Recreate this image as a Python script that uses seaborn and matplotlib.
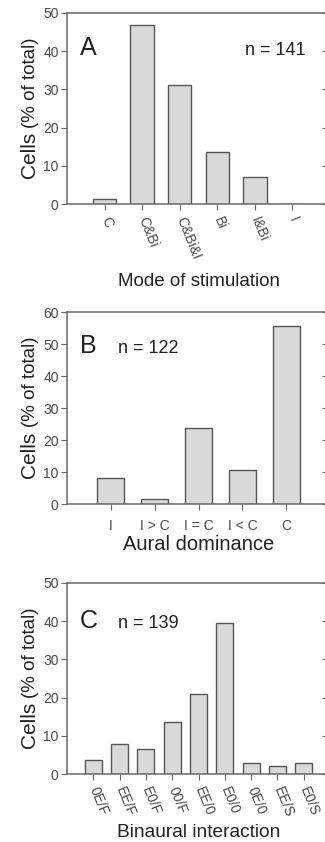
import matplotlib
matplotlib.use("Agg")
import matplotlib.pyplot as plt
import seaborn as sns
import pandas as pd

# Panel A: mode of stimulation (n = 141)
mode_labels = ["C", "C&Bi", "C&Bi&I", "Bi", "I&Bi", "I"]
mode_pct = [1.4, 46.8, 31.2, 13.5, 7.1, 0.0]

# Panel B: aural dominance (n = 122)
aural_labels = ["I", "I > C", "I = C", "I < C", "C"]
aural_pct = [8.2, 1.6, 23.8, 10.7, 55.7]

# Panel C: binaural interaction (n = 139)
binaural_labels = ["0E/F", "EE/F", "E0/F", "00/F", "EE/0", "E0/0", "0E/0", "EE/S", "E0/S"]
binaural_pct = [3.6, 7.9, 6.5, 13.7, 20.9, 39.6, 2.9, 2.2, 2.9]

sns.set_style("ticks")
plt.rcParams["font.family"] = ["Liberation Sans", "DejaVu Sans"]

W, H = 325, 842
fig = plt.figure(figsize=(W / 100, H / 100), dpi=100)

BAR = "#d9d9d9"
EDGE = "#555555"
AXC = "#6a6a6a"
TXT = "#4a4a4a"


def px_axes(left, top, right, bottom):
    return fig.add_axes([left / W, 1 - bottom / H, (right - left) / W, (bottom - top) / H])


panels = [
    dict(box=(67, 13, 330, 204), labels=mode_labels, vals=mode_pct, ymax=50,
         letter="A", n="n = 141", n_x=0.677, base=0.78, rot=True, tpad=6,
         xlabel="Mode of stimulation", xl_size=13.5, xl_pad=8, width=0.62),
    dict(box=(67, 312, 330, 504), labels=aural_labels, vals=aural_pct, ymax=60,
         letter="B", n="n = 122", n_x=0.195, base=0.786, rot=False, tpad=7,
         xlabel="Aural dominance", xl_size=14.5, xl_pad=1, width=0.62),
    dict(box=(67, 583, 330, 774), labels=binaural_labels, vals=binaural_pct, ymax=50,
         letter="C", n="n = 139", n_x=0.195, base=0.764, rot=True, tpad=6,
         xlabel="Binaural interaction", xl_size=13.8, xl_pad=3, width=0.65),
]

for p in panels:
    ax = px_axes(*p["box"])
    df = pd.DataFrame({"cat": p["labels"], "pct": p["vals"]})
    sns.barplot(data=df, x="cat", y="pct", ax=ax, color=BAR, saturation=1,
                edgecolor=EDGE, linewidth=1.0, width=p["width"])
    n = len(p["labels"])
    ax.set_xlim(-1, n)
    ax.set_ylim(0, p["ymax"])
    ax.set_yticks(range(0, p["ymax"] + 1, 10))
    ax.set_ylabel("")
    ax.set_xlabel(p["xlabel"], fontsize=p["xl_size"], color="#222222", labelpad=p["xl_pad"])

    for s in ax.spines.values():
        s.set_visible(True)
        s.set_color(AXC)
        s.set_linewidth(1.1)
    ax.spines["right"].set_visible(False)

    ax.tick_params(axis="y", which="major", direction="out", length=4, width=0.8,
                   color=AXC, labelsize=10, labelcolor=TXT, pad=2)
    ax.tick_params(axis="y", right=True, labelright=False)
    for t in ax.yaxis.get_major_ticks():
        t.tick2line.set_marker(0)  # inward tick hanging off the right edge
        t.tick2line.set_markersize(6)
        t.tick2line.set_color("#cfcfcf")
    ax.tick_params(axis="x", direction="out", length=4, width=0.8, color=AXC,
                   labelsize=10, labelcolor=TXT, pad=p["tpad"])

    if p["rot"]:
        for lab in ax.get_xticklabels():
            lab.set_rotation(-68)
            lab.set_rotation_mode("anchor")
            lab.set_ha("left")
            lab.set_va("center")

    # panel letter and sample size
    ax.text(0.05, p["base"], p["letter"], transform=ax.transAxes, fontsize=18,
            color="#222222", va="baseline", ha="left")
    ax.text(p["n_x"], p["base"], p["n"], transform=ax.transAxes, fontsize=13,
            color="#222222", va="baseline", ha="left")

    # y-axis title in two sizes
    ax.text(-0.122, 0.135, "Cells", transform=ax.transAxes, fontsize=15,
            rotation=90, rotation_mode="anchor", ha="left", va="baseline", color="#222222")
    ax.text(-0.122, 0.40, "(% of total)", transform=ax.transAxes, fontsize=13.5,
            rotation=90, rotation_mode="anchor", ha="left", va="baseline", color="#222222")

fig.savefig("out.png", dpi=100)
